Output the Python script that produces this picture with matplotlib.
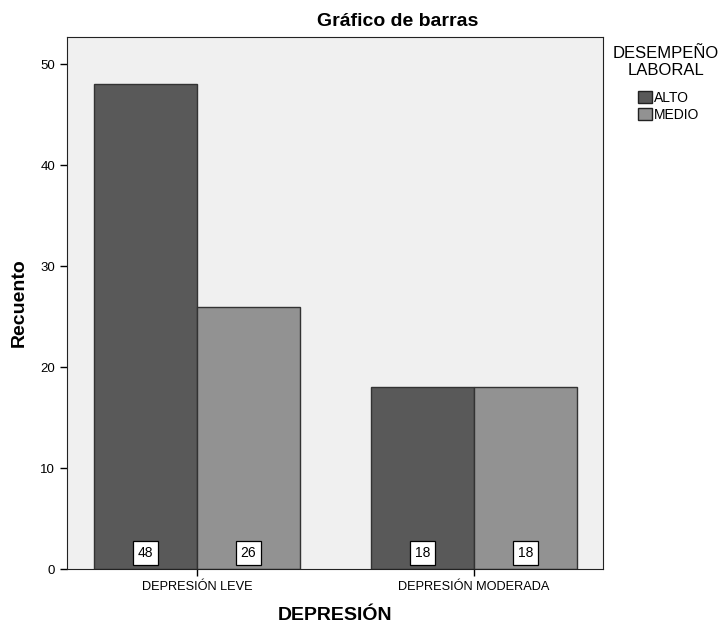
import matplotlib
matplotlib.use("Agg")
import matplotlib.pyplot as plt
from matplotlib.patches import Patch
import numpy as np

categories = ["DEPRESIÓN LEVE", "DEPRESIÓN MODERADA"]
series = ["ALTO", "MEDIO"]
alto = [48, 18]
medio = [26, 18]
colors = ["#595959", "#929292"]

plt.rcParams["font.family"] = ["Liberation Sans", "DejaVu Sans"]

fig = plt.figure(figsize=(7.25, 6.25), dpi=100)
ax = fig.add_axes([0.0924, 0.0896, 0.7393, 0.8512])
ax.set_facecolor("#f0f0f0")

x = np.arange(len(categories))
w = 0.372
for vals, off, col in [(alto, -w / 2, colors[0]), (medio, w / 2, colors[1])]:
    bars = ax.bar(x + off, vals, width=w, color=col, edgecolor="#333333", linewidth=1)
    for b, v in zip(bars, vals):
        ax.text(b.get_x() + b.get_width() / 2, 1.6, str(v), ha="center", va="center",
                fontsize=10, bbox=dict(boxstyle="square,pad=0.35", fc="white", ec="black", lw=0.9))

ax.set_xlim(-0.469, 1.466)
ax.set_ylim(0, 52.7)
ax.set_yticks([0, 10, 20, 30, 40, 50])
ax.set_xticks(x)
ax.set_xticklabels(categories)
ax.tick_params(axis="both", labelsize=9.5, length=5, width=1)
ax.tick_params(axis="x", labelsize=9.2)
for s in ax.spines.values():
    s.set_color("#222222")

# title sits right of the axes centre in the original
fig.text(398 / 725, 1 - 21 / 625, "Gráfico de barras", ha="center", va="center",
         fontsize=14, fontweight="bold")
ax.set_xlabel("DEPRESIÓN", fontsize=14, fontweight="bold", labelpad=10)
ax.set_ylabel("Recuento", fontsize=14, fontweight="bold", labelpad=9)

# legend title drawn separately so the gap to the entries matches
fig.text(666 / 725, 1 - 46 / 625, "DESEMPEÑO\nLABORAL", ha="center", va="top", fontsize=12,
         linespacing=1.15)
handles = [Patch(facecolor=c, edgecolor="#222222", label=s) for c, s in zip(colors, series)]
fig.legend(handles=handles, loc="upper left", bbox_to_anchor=(638 / 725, 1 - 91 / 625),
           frameon=False, fontsize=10, handlelength=1.0, handleheight=1.0,
           handletextpad=0.15, labelspacing=0.2, borderpad=0, borderaxespad=0)

fig.savefig("out.png")
